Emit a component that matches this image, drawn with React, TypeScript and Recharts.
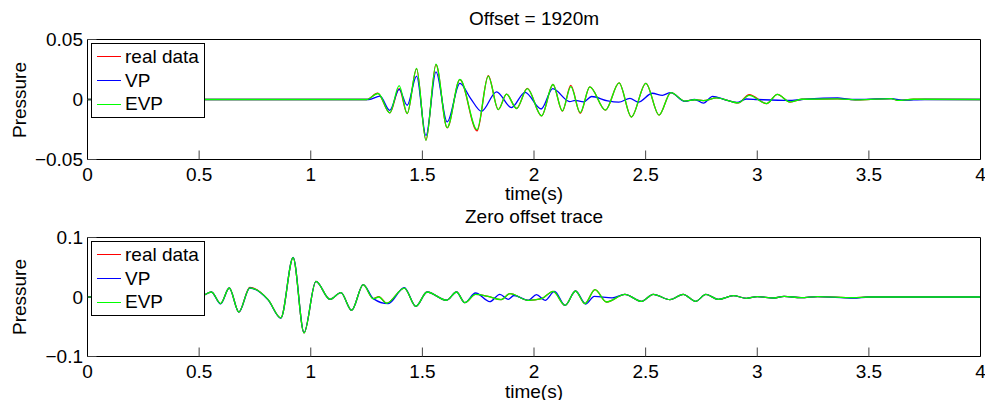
import React from "react";
import { LineChart, Line, XAxis, YAxis, Legend } from "recharts";

// time axis ticks (s)
const timeTicks = [0, 0.5, 1, 1.5, 2, 2.5, 3, 3.5, 4];
const topPressureTicks = [-0.05, 0, 0.05];
const bottomPressureTicks = [-0.1, 0, 0.1];

// Offset = 1920m : [time, pressure] read at peaks / troughs
const topReal: [number, number][] = [
  [0, 0], [1.25, 0], [1.3, 0.0052], [1.354, -0.0112], [1.396, 0.009], [1.432, -0.0117],
  [1.474, 0.0255], [1.516, -0.0338], [1.561, 0.029], [1.611, -0.0236], [1.668, 0.0165],
  [1.745, -0.0262], [1.795, 0.0198], [1.84, -0.0084], [1.877, 0.0044], [1.922, -0.0075],
  [1.97, 0.0092], [2.034, -0.0137], [2.085, 0.0125], [2.127, -0.0097], [2.165, 0.0117],
  [2.207, -0.0115], [2.25, 0.0106], [2.32, -0.0088], [2.381, 0.0139], [2.436, -0.0146],
  [2.501, 0.0135], [2.56, -0.013], [2.613, 0.0058], [2.676, -0.0014], [2.72, -0.0002],
  [2.758, -0.001], [2.818, 0.0014], [2.915, -0.0028], [2.964, 0.004], [3.042, -0.0034],
  [3.09, 0.0042], [3.147, -0.0022], [3.2, 0.0002], [3.36, 0.0006], [3.46, -0.0003],
  [3.6, 0.0008], [3.63, -0.0008], [3.7, 0.0002], [4, 0],
];
const topVP: [number, number][] = [
  [0, 0], [1.26, 0], [1.31, 0.0028], [1.354, -0.009], [1.396, 0.0084], [1.432, -0.0048],
  [1.474, 0.0195], [1.516, -0.03], [1.561, 0.023], [1.611, -0.0187], [1.668, 0.0134],
  [1.715, 0.0012], [1.765, -0.0098], [1.832, 0.0064], [1.899, -0.0067], [1.96, 0.006],
  [2.032, -0.0079], [2.084, 0.009], [2.16, -0.0017], [2.185, -0.0008], [2.222, -0.002],
  [2.258, 0.0025], [2.33, -0.0012], [2.38, -0.0022], [2.43, 0.001], [2.467, -0.0022],
  [2.53, 0.0052], [2.575, 0.0035], [2.612, 0.0058], [2.676, -0.0015], [2.72, 0],
  [2.759, -0.003], [2.8, 0.0026], [2.86, -0.0005], [2.91, -0.0025], [2.95, 0.0004],
  [3.0, 0], [3.14, -0.0008], [3.2, 0], [3.36, 0.0013], [3.42, 0], [3.6, 0.0007],
  [3.65, -0.0005], [3.75, 0], [4, 0],
];
const topEVP: [number, number][] = [
  [0, 0], [1.25, 0], [1.302, 0.005], [1.354, -0.0112], [1.396, 0.0115], [1.432, -0.0117],
  [1.474, 0.026], [1.516, -0.034], [1.561, 0.0295], [1.611, -0.0234], [1.668, 0.0167],
  [1.745, -0.0251], [1.795, 0.0195], [1.84, -0.0084], [1.877, 0.0044], [1.922, -0.0075],
  [1.97, 0.009], [2.034, -0.0137], [2.085, 0.0125], [2.127, -0.0095], [2.165, 0.0108],
  [2.207, -0.0109], [2.25, 0.0105], [2.32, -0.0088], [2.381, 0.0139], [2.436, -0.0146],
  [2.501, 0.0135], [2.56, -0.013], [2.613, 0.0058], [2.676, -0.0014], [2.72, -0.0002],
  [2.758, -0.001], [2.818, 0.0014], [2.915, -0.0028], [2.964, 0.0035], [3.042, -0.0034],
  [3.09, 0.0042], [3.147, -0.002], [3.2, 0.0002], [3.36, 0.0006], [3.46, -0.0003],
  [3.6, 0.0008], [3.63, -0.0008], [3.7, 0.0002], [4, 0],
];

// Zero offset trace
const bottomReal: [number, number][] = [
  [0, 0], [0.5, 0], [0.555, 0.0084], [0.596, -0.011], [0.635, 0.0151], [0.678, -0.0252],
  [0.727, 0.016], [0.809, -0.0044], [0.866, -0.0352], [0.921, 0.066], [0.97, -0.0604],
  [1.023, 0.0263], [1.086, -0.0039], [1.135, 0.0073], [1.183, -0.0223], [1.235, 0.0207],
  [1.28, -0.0027], [1.305, 0.0005], [1.34, -0.0105], [1.419, 0.015], [1.471, -0.0156],
  [1.521, 0.0084], [1.608, -0.0055], [1.653, 0.0084], [1.69, -0.0095], [1.738, 0.0045],
  [1.794, 0.001], [1.853, -0.0045], [1.892, 0.0056], [1.974, -0.0056], [2.034, -0.0028],
  [2.086, 0.0095], [2.139, -0.014], [2.186, 0.0101], [2.228, -0.0112], [2.273, 0.0124],
  [2.325, -0.0084], [2.407, 0.0045], [2.482, -0.0073], [2.534, 0.0045], [2.609, -0.0045],
  [2.668, 0.0045], [2.724, -0.0073], [2.77, 0.0045], [2.825, -0.004], [2.893, 0.0022],
  [2.952, -0.0022], [3.0, 0.0006], [3.075, -0.0017], [3.12, 0.0011], [3.196, -0.0011],
  [3.27, 0.0006], [3.43, -0.0012], [3.5, 0], [4, 0],
];
const bottomVP: [number, number][] = [
  [0, 0], [0.5, 0], [0.555, 0.0084], [0.596, -0.0115], [0.635, 0.0151], [0.678, -0.0252],
  [0.727, 0.0151], [0.809, -0.0048], [0.866, -0.0355], [0.921, 0.0665], [0.97, -0.06],
  [1.023, 0.0263], [1.086, -0.0039], [1.135, 0.0073], [1.183, -0.0223], [1.235, 0.0207],
  [1.28, -0.0027], [1.347, -0.0112], [1.419, 0.0158], [1.471, -0.0156], [1.521, 0.0084],
  [1.608, -0.0055], [1.653, 0.0084], [1.69, -0.0095], [1.738, 0.0067], [1.802, -0.0078],
  [1.847, 0.0045], [1.884, -0.004], [1.91, 0.0025], [1.974, -0.0056], [2.011, 0.0039],
  [2.05, -0.0056], [2.092, 0.0095], [2.139, -0.014], [2.186, 0.0101], [2.232, -0.0118],
  [2.27, 0.001], [2.35, -0.0015], [2.407, 0.0045], [2.482, -0.0073], [2.534, 0.0045],
  [2.609, -0.0045], [2.668, 0.0045], [2.724, -0.0073], [2.77, 0.0045], [2.825, -0.004],
  [2.893, 0.0022], [2.952, -0.0022], [3.0, 0.0006], [3.075, -0.0017], [3.12, 0.0011],
  [3.196, -0.0011], [3.27, 0.0006], [3.43, -0.002], [3.5, 0], [4, 0],
];
const bottomEVP: [number, number][] = [
  [0, 0], [0.5, 0], [0.555, 0.0084], [0.596, -0.011], [0.635, 0.0151], [0.678, -0.0252],
  [0.727, 0.0155], [0.809, -0.0044], [0.866, -0.0352], [0.921, 0.066], [0.97, -0.0604],
  [1.023, 0.0263], [1.086, -0.0039], [1.135, 0.0073], [1.183, -0.0223], [1.235, 0.0207],
  [1.28, -0.003], [1.305, 0], [1.34, -0.0105], [1.419, 0.015], [1.471, -0.0156],
  [1.521, 0.0084], [1.608, -0.0055], [1.653, 0.0084], [1.69, -0.0095], [1.738, 0.0045],
  [1.794, 0.001], [1.853, -0.0045], [1.892, 0.0056], [1.974, -0.0056], [2.034, -0.0028],
  [2.086, 0.0095], [2.139, -0.014], [2.186, 0.0101], [2.228, -0.0112], [2.273, 0.0124],
  [2.325, -0.0084], [2.407, 0.0045], [2.482, -0.0073], [2.534, 0.0045], [2.609, -0.0045],
  [2.668, 0.0045], [2.724, -0.0073], [2.77, 0.0045], [2.825, -0.004], [2.893, 0.0022],
  [2.952, -0.0022], [3.0, 0.0006], [3.075, -0.0017], [3.12, 0.0011], [3.196, -0.0011],
  [3.27, 0.0006], [3.43, -0.0012], [3.5, 0], [4, 0],
];

const seriesNames = ["real data", "VP", "EVP"];
const seriesColors = ["#ff0000", "#0000ff", "#00ff00"];

const FONT = '"Liberation Sans", Arial, Helvetica, sans-serif';
const TICK = 9;
const THIN = 0.01; // axes need a non-zero size to be drawn

const toRows = (pts: [number, number][]) => pts.map(([t, p]) => ({ t, p }));

const fmt = (v: number) => (v < 0 ? "\u2212" + String(-v) : String(v));

const BottomTick = (props: any) => (
  <text
    x={props.x}
    y={props.y + TICK + 14.5}
    textAnchor="middle"
    dominantBaseline="central"
    fontSize={19}
    fontFamily={FONT}
    fill="#000"
  >
    {fmt(props.payload.value)}
  </text>
);

const LeftTick = (props: any) => (
  <text
    x={props.x - TICK - 4.5}
    y={props.y}
    textAnchor="end"
    dominantBaseline="central"
    fontSize={19}
    fontFamily={FONT}
    fill="#000"
  >
    {fmt(props.payload.value)}
  </text>
);

// legend drawn in the series order
const renderLegend = () => (
  <div
    style={{
      width: 114,
      height: 75,
      boxSizing: "border-box",
      border: "1px solid #000",
      background: "#fff",
      position: "relative",
      fontFamily: FONT,
      fontSize: 19,
    }}
  >
    {seriesNames.map((name, i) => (
      <div
        key={name}
        style={{
          position: "absolute",
          left: 5,
          top: 0.7 + i * 23.8,
          height: 24,
          lineHeight: "24px",
          display: "flex",
          alignItems: "center",
          whiteSpace: "nowrap",
        }}
      >
        <div style={{ width: 24, height: 0, borderTop: `1.5px solid ${seriesColors[i]}` }} />
        <span style={{ marginLeft: 4, color: "#000" }}>{name}</span>
      </div>
    ))}
  </div>
);

type PanelProps = {
  series: [number, number][][];
  yTicks: number[];
  marginTop: number;
  marginBottom: number;
};

function Panel({ series, yTicks, marginTop, marginBottom }: PanelProps) {
  const yDomain = [yTicks[0], yTicks[yTicks.length - 1]];
  const axisLine = { stroke: "#000", strokeWidth: 1 };
  const tickLine = { stroke: "#444", strokeWidth: 1 };
  return (
    <LineChart
      width={985}
      height={200}
      margin={{ top: marginTop, right: 4.5, bottom: marginBottom, left: 87.5 }}
    >
      <XAxis
        xAxisId="main"
        dataKey="t"
        type="number"
        domain={[0, 4]}
        ticks={timeTicks}
        allowDataOverflow
        height={THIN}
        mirror
        tickSize={TICK}
        tickMargin={0}
        tick={BottomTick}
        axisLine={axisLine}
        tickLine={tickLine}
      />
      <XAxis
        xAxisId="top"
        orientation="top"
        type="number"
        domain={[0, 4]}
        ticks={timeTicks}
        allowDataOverflow
        height={THIN}
        mirror
        tickSize={TICK}
        tick={false}
        axisLine={axisLine}
        tickLine={tickLine}
      />
      <YAxis
        yAxisId="main"
        type="number"
        domain={yDomain}
        ticks={yTicks}
        allowDataOverflow
        width={THIN}
        mirror
        tickSize={TICK}
        tickMargin={0}
        tick={LeftTick}
        axisLine={axisLine}
        tickLine={tickLine}
      />
      <YAxis
        yAxisId="right"
        orientation="right"
        type="number"
        domain={yDomain}
        ticks={yTicks}
        allowDataOverflow
        width={THIN}
        mirror
        tickSize={TICK}
        tick={false}
        axisLine={axisLine}
        tickLine={tickLine}
      />
      {series.map((pts, i) => (
        <Line
          key={seriesNames[i]}
          xAxisId="main"
          yAxisId="main"
          data={toRows(pts)}
          dataKey="p"
          name={seriesNames[i]}
          type="monotone"
          stroke={seriesColors[i]}
          strokeWidth={1.3}
          dot={false}
          activeDot={false}
          isAnimationActive={false}
        />
      ))}
      <Legend
        verticalAlign="middle"
        align="center"
        content={renderLegend}
        wrapperStyle={{ left: 91, top: marginTop + 3.5, width: 114, height: 75 }}
      />
    </LineChart>
  );
}

const textStyle: React.CSSProperties = {
  position: "absolute",
  fontFamily: FONT,
  fontSize: 19,
  lineHeight: "19px",
  color: "#000",
  whiteSpace: "nowrap",
  transform: "translate(-50%, -50%)",
};

export default function App() {
  return (
    <div
      style={{
        position: "absolute",
        left: 0,
        top: 0,
        width: 985,
        height: 400,
        background: "#fff",
        overflow: "hidden",
      }}
    >
      <div style={{ position: "absolute", left: 0, top: 0 }}>
        <Panel
          series={[topReal, topVP, topEVP]}
          yTicks={topPressureTicks}
          marginTop={39.5}
          marginBottom={40.5}
        />
      </div>
      <div style={{ position: "absolute", left: 0, top: 200 }}>
        <Panel
          series={[bottomReal, bottomVP, bottomEVP]}
          yTicks={bottomPressureTicks}
          marginTop={37.5}
          marginBottom={43.5}
        />
      </div>
      <div style={{ ...textStyle, left: 534, top: 17.5 }}>Offset = 1920m</div>
      <div style={{ ...textStyle, left: 534, top: 193 }}>time(s)</div>
      <div style={{ ...textStyle, left: 534, top: 215.7 }}>Zero offset trace</div>
      <div style={{ ...textStyle, left: 534, top: 390.5 }}>time(s)</div>
      <div style={{ ...textStyle, left: 19, top: 99.5, transform: "translate(-50%, -50%) rotate(-90deg)" }}>
        Pressure
      </div>
      <div style={{ ...textStyle, left: 19, top: 297, transform: "translate(-50%, -50%) rotate(-90deg)" }}>
        Pressure
      </div>
    </div>
  );
}
